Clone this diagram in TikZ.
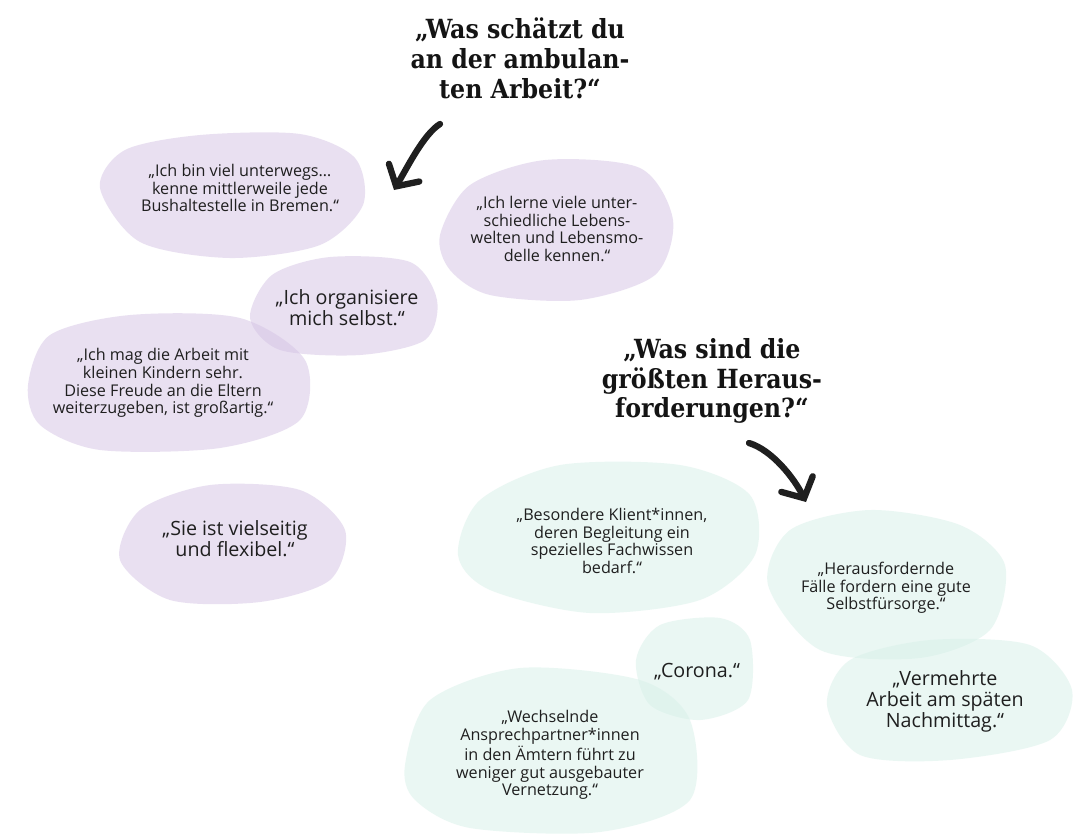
\documentclass[tikz,border=0pt]{standalone}
\usepackage{fontspec}
\setmainfont{Open Sans}
\newfontfamily\headfont{DejaVu Serif Condensed}
\usetikzlibrary{arrows.meta}
\definecolor{lila}{RGB}{213,195,229}
\definecolor{mint}{RGB}{215,241,233}

\begin{document}
\begin{tikzpicture}[x=0.02cm,y=-0.02cm,
  head/.style={font=\headfont\bfseries\fontsize{15}{17}\selectfont,align=center,text=black!92},
  quote/.style={font=\fontsize{9.2}{10.1}\selectfont,align=center,text=black!88},
  bigquote/.style={font=\fontsize{11.2}{11.9}\selectfont,align=center,text=black!88},
  blobA/.style={fill=lila,fill opacity=0.5},
  blobB/.style={fill=mint,fill opacity=0.5},
  brush/.style={line width=3.6pt,line cap=round,black!88,
    -{Straight Barb[length=9pt,width=20pt,line cap=round]}}]
  \fill[white] (0,0) rectangle (1076,836);
  \useasboundingbox (0,0) rectangle (1076,836);

  \fill[blobA] plot[smooth cycle] coordinates {(100,188) (125,150) (200,135) (300,134) (355,158) (363,205) (320,245) (230,258) (140,242)};
  \fill[blobA] plot[smooth cycle] coordinates {(440,235) (470,185) (545,160) (640,168) (673,220) (655,275) (580,300) (490,295) (450,270)};
  \fill[blobA] plot[smooth cycle] coordinates {(250,318) (272,275) (330,257) (410,262) (437,300) (425,340) (360,355) (280,350)};
  \fill[blobA] plot[smooth cycle] coordinates {(28,385) (50,335) (130,315) (240,318) (305,360) (300,420) (220,448) (100,450) (40,425)};
  \fill[blobA] plot[smooth cycle] coordinates {(120,560) (140,510) (210,485) (300,490) (345,530) (330,580) (260,602) (170,600)};

  \fill[blobB] plot[smooth cycle] coordinates {(458,555) (480,500) (560,465) (680,465) (750,495) (755,555) (700,600) (590,613) (490,590)};
  \fill[blobB] plot[smooth cycle] coordinates {(768,585) (790,530) (870,510) (960,525) (1005,565) (990,630) (920,658) (820,650)};
  \fill[blobB] plot[smooth cycle] coordinates {(827,705) (850,660) (930,640) (1030,645) (1072,690) (1050,740) (950,760) (860,755)};
  \fill[blobB] plot[smooth cycle] coordinates {(636,660) (660,625) (720,618) (750,640) (748,700) (700,720) (650,705)};
  \fill[blobB] plot[smooth cycle] coordinates {(405,765) (430,700) (520,668) (640,680) (690,720) (690,800) (600,832) (470,828) (415,800)};

  \node[head] (frage1) at (520,58) {„Was schätzt du\\an der ambulan-\\ten Arbeit?“};
  \node[head] (frage2) at (712,381) {„Was sind die\\größten Heraus-\\forderungen?“};

  \node[quote] (unterwegs) at (240,188) {„Ich bin viel unterwegs…\\kenne mittlerweile jede\\Bushaltestelle in Bremen.“};
  \node[quote] (lebenswelten) at (557,229) {„Ich lerne viele unter-\\schiedliche Lebens-\\welten und Lebensmo-\\delle kennen.“};
  \node[bigquote] (selbst) at (347,308) {„Ich organisiere\\mich selbst.“};
  \node[quote] (kinder) at (163,383) {„Ich mag die Arbeit mit\\kleinen Kindern sehr.\\Diese Freude an die Eltern\\weiterzugeben, ist großartig.“};
  \node[bigquote] (vielseitig) at (235,539) {„Sie ist vielseitig\\und flexibel.“};

  \node[quote] (klienten) at (612,541) {„Besondere Klient*innen,\\deren Begleitung ein\\spezielles Fachwissen\\bedarf.“};
  \node[quote] (faelle) at (886,588) {„Herausfordernde\\Fälle fordern eine gute\\Selbstfürsorge.“};
  \node[bigquote] (nachmittag) at (945,701) {„Vermehrte\\Arbeit am späten\\Nachmittag.“};
  \node[bigquote] (corona) at (697,672) {„Corona.“};
  \node[quote] (vernetzung) at (550,755) {„Wechselnde\\Ansprechpartner*innen\\in den Ämtern führt zu\\weniger gut ausgebauter\\Vernetzung.“};

  \coordinate (start1) at (440,124);
  \coordinate (ziel1) at (394,190);
  \coordinate (start2) at (749,443);
  \coordinate (ziel2) at (806,502);
  \draw[brush] (start1) .. controls (424,134) and (408,166) .. (ziel1);
  \draw[brush] (start2) .. controls (772,450) and (794,478) .. (ziel2);
\end{tikzpicture}
\end{document}
